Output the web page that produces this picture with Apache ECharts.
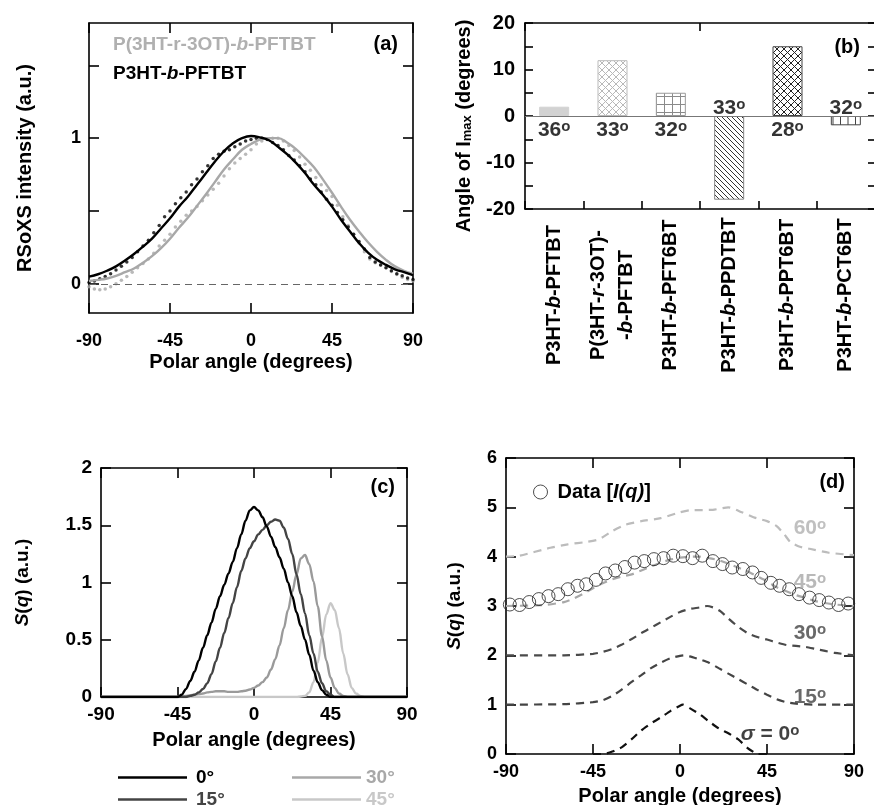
<!DOCTYPE html>
<html><head><meta charset="utf-8">
<script src="https://cdn.jsdelivr.net/npm/echarts@6/dist/echarts.min.js"></script>
<style>html,body{margin:0;padding:0;background:#fff}#c{width:874px;height:805px}</style>
</head><body><div id="c"></div>
<script>
// ---------- Panel (a) data ----------
const aFitAngles = [-90,-85,-80,-75,-70,-65,-60,-55,-50,-45,-40,-35,-30,-25,-20,-15,-10,-5,0,5,10,15,20,25,30,35,40,45,50,55,60,65,70,75,80,85,90];
const aBlackFit = [0.05,0.066,0.09,0.12,0.16,0.205,0.255,0.31,0.38,0.45,0.53,0.60,0.68,0.76,0.84,0.91,0.965,1.0,1.015,1.005,0.985,0.94,0.89,0.83,0.76,0.68,0.61,0.53,0.44,0.36,0.28,0.215,0.165,0.13,0.10,0.08,0.06];
const aGrayFit = [0.02,0.027,0.037,0.055,0.08,0.105,0.145,0.19,0.245,0.31,0.385,0.455,0.535,0.615,0.70,0.785,0.855,0.92,0.96,0.99,1.0,1.0,0.97,0.925,0.865,0.80,0.715,0.625,0.53,0.44,0.36,0.285,0.22,0.165,0.12,0.09,0.07];
const aDotAngles = [-90,-87,-84,-81,-78,-75,-72,-69,-66,-63,-60,-57,-54,-51,-48,-45,-42,-39,-36,-33,-30,-27,-24,-21,-18,-15,-12,-9,-6,-3,0,3,6,9,12,15,18,21,24,27,30,33,36,39,42,45,48,51,54,57,60,63,66,69,72,75,78,81,84,87,90];
const aBlackDots = [0.01,0.02,0.035,0.05,0.07,0.095,0.12,0.15,0.18,0.22,0.26,0.30,0.35,0.40,0.46,0.50,0.55,0.59,0.63,0.68,0.72,0.77,0.81,0.86,0.89,0.91,0.92,0.94,0.96,0.98,0.99,1.0,1.0,0.99,0.97,0.95,0.92,0.88,0.85,0.81,0.77,0.72,0.68,0.63,0.58,0.54,0.49,0.44,0.39,0.34,0.29,0.24,0.18,0.15,0.13,0.11,0.09,0.07,0.055,0.04,0.03];
const aGrayDots = [-0.02,-0.035,-0.04,-0.035,-0.02,0.0,0.025,0.05,0.08,0.11,0.14,0.17,0.21,0.26,0.30,0.34,0.39,0.43,0.47,0.50,0.53,0.57,0.61,0.65,0.69,0.74,0.79,0.83,0.86,0.89,0.92,0.96,0.98,0.995,1.0,1.0,0.98,0.95,0.915,0.87,0.82,0.78,0.73,0.68,0.64,0.60,0.54,0.46,0.40,0.34,0.28,0.22,0.17,0.145,0.13,0.11,0.085,0.065,0.045,0.03,0.02];
const aLegendGray = 'P(3HT-r-3OT)-{i|b}-PFTBT';
const aLegendBlack = 'P3HT-{i|b}-PFTBT';

// ---------- Panel (b) data ----------
const bCategories = ['P3HT-b-PFTBT','P(3HT-r-3OT)-\n-b-PFTBT','P3HT-b-PFT6BT','P3HT-b-PPDTBT','P3HT-b-PPT6BT','P3HT-b-PCT6BT'];
const bValues = [2,12,5,-18,15,-2];
const bAngleLabels = ['36','33','32','33','28','32'];

// ---------- Panel (c) data ----------
const cAngles = [-90,-50,-47.5,-45,-42.5,-40,-37.5,-35,-32.5,-30,-27.5,-25,-22.5,-20,-17.5,-15,-12.5,-10,-7.5,-5,-2.5,0,2.5,5,7.5,10,12.5,15,17.5,20,22.5,25,27.5,30,32.5,35,37.5,40,42.5,45,47.5,50,52.5,55,57.5,60,62.5,65,67.5,70,90];
const c0 = [0,0,0,0,0.02,0.07,0.14,0.22,0.32,0.43,0.54,0.65,0.77,0.88,0.98,1.08,1.18,1.30,1.42,1.54,1.63,1.66,1.63,1.57,1.49,1.40,1.31,1.22,1.12,1.00,0.88,0.74,0.62,0.50,0.37,0.23,0.13,0.06,0.02,0,0,0,0,0,0,0,0,0,0,0,0];
const c15 = [0,0,0,0,0,0,0.01,0.02,0.04,0.07,0.12,0.20,0.31,0.43,0.56,0.69,0.82,0.96,1.10,1.21,1.30,1.36,1.42,1.46,1.50,1.53,1.55,1.54,1.48,1.38,1.25,1.07,0.90,0.73,0.54,0.38,0.22,0.12,0.05,0.02,0,0,0,0,0,0,0,0,0,0,0];
const c30 = [0,0,0,0,0.005,0.01,0.015,0.02,0.025,0.03,0.04,0.045,0.05,0.05,0.05,0.045,0.045,0.045,0.05,0.055,0.065,0.08,0.10,0.13,0.17,0.24,0.33,0.45,0.60,0.76,0.92,1.07,1.21,1.24,1.16,1.01,0.79,0.53,0.32,0.17,0.08,0.03,0.01,0,0,0,0,0,0,0,0];
const c45 = [0,0,0,0,0,0,0,0,0,0,0,0,0,0,0,0,0,0,0,0,0,0,0,0,0,0,0,0,0,0,0,0,0.005,0.01,0.04,0.13,0.30,0.52,0.72,0.82,0.76,0.60,0.38,0.20,0.08,0.03,0.01,0,0,0,0];
const cNames = ['0°','15°','30°','45°'];

// ---------- Panel (d) data ----------
const dDataAngles = [-88,-83,-78,-73,-68,-63,-58,-53,-48.5,-43.5,-38.5,-33.5,-28.5,-23.5,-18.5,-13.5,-8.5,-3.5,1.5,6.5,11.5,17,22,27,32.5,37.5,42,47,51.5,56.5,61.5,67,72,77,82,87];
const dData = [3.03,3.02,3.08,3.14,3.2,3.24,3.34,3.41,3.44,3.53,3.66,3.72,3.79,3.88,3.91,3.95,3.97,4.02,4.01,3.97,4.02,3.91,3.85,3.78,3.75,3.68,3.57,3.47,3.41,3.34,3.24,3.17,3.12,3.07,3.02,3.05];
const d0Angles = [-45,-39.5,-35,-30,-25,-20,-15,-10,-5,0,1.5,5,10,15,20,25,30,35,38,40,45];
const d0 = [0,0,0.05,0.14,0.3,0.48,0.62,0.74,0.87,0.98,1.0,0.93,0.81,0.66,0.52,0.42,0.3,0.12,0.04,0,0];
const d15Angles = [-90,-60,-45,-40,-35,-30,-25,-20,-15,-10,-5,0,2,5,10,15,20,25,30,35,40,45,50,55,60,70,90];
const d15 = [1.0,1.01,1.05,1.09,1.18,1.31,1.46,1.6,1.74,1.85,1.94,1.99,2.0,1.98,1.92,1.85,1.74,1.63,1.52,1.41,1.30,1.2,1.11,1.05,1.02,1.0,1.0];
const d30Angles = [-90,-60,-45,-40,-35,-30,-25,-20,-15,-10,-5,0,5,10,14,18,21,25,30,35,40,45,50,55,60,65,70,75,80,90];
const d30 = [2.0,2.0,2.03,2.07,2.13,2.22,2.33,2.45,2.56,2.67,2.78,2.88,2.94,2.97,3.0,2.96,2.89,2.75,2.58,2.45,2.37,2.32,2.26,2.21,2.19,2.17,2.13,2.09,2.05,2.0];
const d45Angles = [-90,-70,-60,-55,-50,-45,-40,-35,-30,-25,-20,-15,-10,-5,0,5,10,15,20,25,30,35,40,45,50,55,60,65,70,75,80,90];
const d45 = [3.0,3.02,3.08,3.15,3.25,3.36,3.46,3.54,3.60,3.64,3.72,3.8,3.88,3.94,3.98,4.0,4.0,3.97,3.93,3.86,3.78,3.70,3.6,3.5,3.38,3.3,3.22,3.16,3.1,3.06,3.03,3.0];
const d60Angles = [-90,-83,-67,-58,-48,-42,-35,-28,-20,-10,0,5,17,25,32,38,45,50,54,57,62,67,77,90];
const d60 = [4.0,4.02,4.18,4.25,4.3,4.35,4.52,4.65,4.72,4.78,4.9,4.94,4.95,5.0,4.9,4.8,4.72,4.62,4.45,4.3,4.2,4.16,4.08,4.03];

// ---------- helpers ----------
const FONT = 'Liberation Sans';
function pairs(xs, ys){ return xs.map((x,i)=>[x, ys[i]]); }
function makePattern(kind, color, size, lw){
  const c = document.createElement('canvas'); c.width = size; c.height = size;
  const g = c.getContext('2d');
  g.fillStyle = '#fff'; g.fillRect(0,0,size,size);
  g.strokeStyle = color; g.lineWidth = lw; g.beginPath();
  if (kind === 'back' || kind === 'cross') { for (const k of [-size,0,size]) { g.moveTo(k,0); g.lineTo(k+size,size); } }
  if (kind === 'fwd' || kind === 'cross') { for (const k of [-size,0,size]) { g.moveTo(k,size); g.lineTo(k+size,0); } }
  if (kind === 'grid') { g.moveTo(0,0.5); g.lineTo(size,0.5); g.moveTo(0.5,0); g.lineTo(0.5,size); }
  if (kind === 'vert') { g.moveTo(0.5,0); g.lineTo(0.5,size); g.moveTo(8,0); g.lineTo(8,size); }
  g.stroke();
  return {image: c, repeat: 'repeat'};
}
const barStyles = [
  {color:'#d2d2d2', borderColor:'#d2d2d2', borderWidth:1},
  {color: makePattern('cross','#b8b8b8',7,1), borderColor:'#bbbbbb', borderWidth:1},
  {color: makePattern('grid','#8a8a8a',8,1), borderColor:'#999999', borderWidth:1},
  {color: makePattern('back','#333333',5,1), borderColor:'#888888', borderWidth:1},
  {color: makePattern('cross','#222222',7,1), borderColor:'#444444', borderWidth:1},
  {color: makePattern('vert','#444444',15,1), borderColor:'#444444', borderWidth:1}
];

function axLine(){ return {show:true, onZero:false, lineStyle:{color:'#000', width:1.6}}; }
function axTick(len){ return {show:true, inside:true, length:len, lineStyle:{color:'#000', width:1.6}}; }
function valX(grid, pos, fs, margin, name, gap, extra){
  return Object.assign({
    type:'value', gridIndex:grid, position:pos, min:-90, max:90, interval:45,
    axisLine:axLine(), axisTick:axTick(10), splitLine:{show:false},
    axisLabel:{show: pos==='bottom', margin:margin, fontSize:fs, fontWeight:'bold', color:'#000', fontFamily:FONT},
    name: pos==='bottom'? name : '', nameLocation:'middle', nameGap:gap, nameMoveOverlap:false,
    nameTextStyle:{fontSize:20, fontWeight:'bold', color:'#000', fontFamily:FONT}
  }, extra||{});
}
function valY(grid, pos, min, max, interval, fs, margin, name, gap, extra){
  return Object.assign({
    type:'value', gridIndex:grid, position:pos, min:min, max:max, interval:interval,
    axisLine:axLine(), axisTick:axTick(10), splitLine:{show:false},
    axisLabel:{show: pos==='left', margin:margin, fontSize:fs, fontWeight:'bold', color:'#000', fontFamily:FONT},
    name: pos==='left'? name : '', nameLocation:'middle', nameGap:gap, nameMoveOverlap:false,
    nameTextStyle:{fontSize:20, fontWeight:'bold', color:'#000', fontFamily:FONT}
  }, extra||{});
}
const boldRich = (size, color) => ({
  n:{fontSize:size, fontWeight:'bold', fontFamily:FONT, color:color, lineHeight:size},
  s:{fontSize:Math.round(size*0.7), fontWeight:'bold', fontFamily:FONT, color:color, verticalAlign:'top', lineHeight:Math.round(size*0.7)},
  i:{fontSize:size, fontWeight:'bold', fontStyle:'italic', fontFamily:FONT, color:color, lineHeight:size}
});

const grids = [
  {left:89, top:23, width:324, height:290, outerBoundsMode:'none'},
  {left:525, top:23, width:350, height:186, outerBoundsMode:'none'},
  {left:101, top:468, width:306, height:229, outerBoundsMode:'none'},
  {left:506, top:458, width:348, height:296, outerBoundsMode:'none'}
];

const catLabelFmt = v => v.split('\n').map(l => l.replace(/-b-/g,'-{i|b}-').replace('-r-','-{i|r}-')).join('\n');

const xAxes = [
  valX(0,'bottom',18,19,'Polar angle (degrees)',39),
  valX(0,'top',18,0,'',0),
  {type:'category', gridIndex:1, position:'bottom', data:bCategories,
   axisLine:axLine(), axisTick:{show:true, inside:true, length:8, alignWithLabel:false, lineStyle:{color:'#000', width:1.6}},
   axisLabel:{interval:0, rotate:90, align:'center', verticalAlign:'middle', margin:86, fontSize:20, fontWeight:'bold', color:'#000', fontFamily:FONT, lineHeight:28,
     formatter:catLabelFmt, rich:{i:{fontSize:20, fontWeight:'bold', fontStyle:'italic', fontFamily:FONT, color:'#000', lineHeight:28}}}},
  {type:'category', gridIndex:1, position:'top', data:bCategories,
   axisLine:axLine(), axisTick:{show:true, inside:true, length:8, alignWithLabel:false, lineStyle:{color:'#000', width:1.6}},
   axisLabel:{show:false}},
  valX(2,'bottom',19,8.5,'Polar angle (degrees)',33),
  valX(2,'top',19,0,'',0),
  valX(3,'bottom',18,9,'Polar angle (degrees)',32),
  valX(3,'top',18,0,'',0)
];

const yAxes = [
  valY(0,'left',-0.2,1.79,null,18,8,'RSoXS intensity (a.u.)',54,
    {axisTick:Object.assign(axTick(10),{customValues:[0,0.5,1,1.5]}),
     axisLabel:{show:true, customValues:[0,1], margin:8, fontSize:18, fontWeight:'bold', color:'#000', fontFamily:FONT}}),
  valY(0,'right',-0.2,1.79,null,18,0,'',0,
    {axisTick:Object.assign(axTick(10),{customValues:[0,0.5,1,1.5]}), axisLabel:{show:false}}),
  valY(1,'left',-20,20,5,20,10,'Angle of I{sub|max} (degrees)',51,
    {axisTick:axTick(8),
     axisLabel:{margin:10, fontSize:20, fontWeight:'bold', color:'#000', fontFamily:FONT, formatter: v => (v % 10 === 0 ? String(v) : '')},
     nameTextStyle:{fontSize:20, fontWeight:'bold', color:'#000', fontFamily:FONT, padding:[0,20,0,0],
       rich:{sub:{fontSize:13, fontWeight:'bold', color:'#000', fontFamily:FONT, verticalAlign:'bottom', lineHeight:13}}}}),
  valY(1,'right',-20,20,5,20,0,'',0,{axisTick:axTick(7)}),
  valY(2,'left',0,2,0.5,19,9,'{i|S}({i|q}) (a.u.)',69,
    {nameTextStyle:{fontSize:19, fontWeight:'bold', color:'#000', fontFamily:FONT,
      rich:{i:{fontSize:19, fontWeight:'bold', fontStyle:'italic', color:'#000', fontFamily:FONT}}}}),
  valY(2,'right',0,2,0.5,19,0,'',0),
  valY(3,'left',0,6,1,18,9,'{i|S}({i|q}) (a.u.)',42,
    {nameTextStyle:{fontSize:19, fontWeight:'bold', color:'#000', fontFamily:FONT,
      rich:{i:{fontSize:19, fontWeight:'bold', fontStyle:'italic', color:'#000', fontFamily:FONT}}}}),
  valY(3,'right',0,6,1,18,0,'',0)
];

const series = [];
// (a)
series.push({type:'scatter', name:'aGrayDots', xAxisIndex:0, yAxisIndex:0, data:pairs(aDotAngles,aGrayDots), symbolSize:3.5, itemStyle:{color:'#a8a8a8'}, silent:true,
  markLine:{silent:true, symbol:['none','none'], label:{show:false}, lineStyle:{type:[7,5], color:'#666', width:1}, data:[{yAxis:0}]}});
series.push({type:'line', name:'aGrayFit', xAxisIndex:0, yAxisIndex:0, data:pairs(aFitAngles,aGrayFit), smooth:0.4, symbol:'none', lineStyle:{color:'#a8a8a8', width:2.4}});
series.push({type:'scatter', name:'aBlackDots', xAxisIndex:0, yAxisIndex:0, data:pairs(aDotAngles,aBlackDots), symbolSize:3.5, itemStyle:{color:'#000'}, silent:true});
series.push({type:'line', name:'aBlackFit', xAxisIndex:0, yAxisIndex:0, data:pairs(aFitAngles,aBlackFit), smooth:0.4, symbol:'none', lineStyle:{color:'#000', width:2.4}});
// (b)
series.push({type:'bar', name:'bBars', xAxisIndex:2, yAxisIndex:2, barWidth:30,
  data: bValues.map((v,i)=>({value:v, itemStyle:barStyles[i]})),
  markLine:{silent:true, symbol:['none','none'], label:{show:false}, lineStyle:{type:'solid', color:'#777', width:1.2}, data:[{yAxis:0}]}});
series.push({type:'scatter', name:'bLabels', xAxisIndex:2, yAxisIndex:2, symbolSize:1, itemStyle:{color:'transparent'}, silent:true, z:5,
  data: bValues.map((v,i)=>({value:[i,0], label:{offset:[0, v>=0 ? 14 : -8]}})),
  label:{show:true, position:'inside', formatter: p => '{n|'+bAngleLabels[p.dataIndex]+'}{s|o}', rich:boldRich(21,'#000')}});
// (c)
const cColors = ['#000000','#444444','#9a9a9a','#c8c8c8'];
[c0,c15,c30,c45].forEach((vals,k)=>{
  series.push({type:'line', name:cNames[k], xAxisIndex:4, yAxisIndex:4, data:pairs(cAngles,vals), smooth:0.35, smoothMonotone:'x', symbol:'none',
    lineStyle:{color:cColors[k], width:2.4}, itemStyle:{color:cColors[k]}, z: 10-k});
});
// (d)
const dDefs = [[d60Angles,d60,'#bcbcbc'],[d45Angles,d45,'#a8a8a8'],[d30Angles,d30,'#4a4a4a'],[d15Angles,d15,'#444444'],[d0Angles,d0,'#111111']];
dDefs.forEach(([xs,ys,col],k)=>{
  series.push({type:'line', name:'d'+k, xAxisIndex:6, yAxisIndex:6, data:pairs(xs,ys), smooth:0.2, symbol:'none',
    lineStyle:{color:col, width:2.2, type:[8,6]}});
});
series.push({type:'scatter', name:'Data', xAxisIndex:6, yAxisIndex:6, data:pairs(dDataAngles,dData), symbol:'circle', symbolSize:13,
  itemStyle:{color:'rgba(255,255,255,0)', borderColor:'#222', borderWidth:1}, z:6});
series.push({type:'scatter', name:'dLabels', xAxisIndex:6, yAxisIndex:6, symbolSize:1, itemStyle:{color:'transparent'}, silent:true, z:7,
  label:{show:true, position:'inside', formatter: p => p.data.t},
  data:[
    {value:[67.2,4.58], t:'{n|60}{s|o}', label:{rich:boldRich(21,'#b0b0b0')}},
    {value:[67.2,3.49], t:'{n|45}{s|o}', label:{rich:boldRich(21,'#a8a8a8')}},
    {value:[67.2,2.45], t:'{n|30}{s|o}', label:{rich:boldRich(21,'#444')}},
    {value:[67.2,1.16], t:'{n|15}{s|o}', label:{rich:boldRich(21,'#444')}},
    {value:[46.6,0.40], t:'{i|σ}{n| = 0}{s|o}', label:{rich:boldRich(21,'#111')}}
  ]});

const legendText = {fontSize:19, fontWeight:'bold', fontFamily:FONT, lineHeight:18};
function lineLegend(name, left, top, color, pad){
  return {orient:'horizontal', left:left, top:top, itemWidth:69, itemHeight:2.5, selectedMode:false,
    textStyle:Object.assign({padding:[0,0,0,pad], color:color}, legendText),
    data:[{name:name, icon:'rect', itemStyle:{color:color}}]};
}
const option = {
  animation:false,
  backgroundColor:'#fff',
  textStyle:{fontFamily:FONT},
  grid:grids, xAxis:xAxes, yAxis:yAxes, series:series,
  legend:[
    lineLegend('0°', 113, 763, '#000', 4),
    lineLegend('15°', 113, 785, '#444', 4),
    lineLegend('30°', 287, 763, '#a8a8a8', 0),
    lineLegend('45°', 287, 785, '#c8c8c8', 0),
    {orient:'vertical', left:528, top:477, itemWidth:14, itemHeight:14, selectedMode:false,
     data:[{name:'Data', icon:'circle', itemStyle:{color:'rgba(255,255,255,0)', borderColor:'#222', borderWidth:1}}],
     formatter: n => 'Data [{i|I(q)}]',
     textStyle:{fontSize:20, fontWeight:'bold', fontFamily:FONT, color:'#000', padding:[0,0,0,5],
       rich:{i:{fontSize:20, fontWeight:'bold', fontStyle:'italic', fontFamily:FONT, color:'#000'}}}}
  ],
  graphic:[
    {type:'text', x:113, y:45, silent:true, style:{text:aLegendGray, fill:'#b0b0b0', fontSize:19, fontWeight:'bold', fontFamily:FONT, verticalAlign:'middle',
      rich:{i:{fill:'#b0b0b0', fontSize:19, fontWeight:'bold', fontStyle:'italic', fontFamily:FONT}}}},
    {type:'text', x:113, y:74, silent:true, style:{text:aLegendBlack, fill:'#000', fontSize:19, fontWeight:'bold', fontFamily:FONT, verticalAlign:'middle',
      rich:{i:{fill:'#000', fontSize:19, fontWeight:'bold', fontStyle:'italic', fontFamily:FONT}}}},
    {type:'text', x:398, y:44, silent:true, style:{text:'(a)', fill:'#000', fontSize:20, fontWeight:'bold', fontFamily:FONT, align:'right', verticalAlign:'middle'}},
    {type:'text', x:860, y:47, silent:true, style:{text:'(b)', fill:'#000', fontSize:20, fontWeight:'bold', fontFamily:FONT, align:'right', verticalAlign:'middle'}},
    {type:'text', x:395, y:487, silent:true, style:{text:'(c)', fill:'#000', fontSize:20, fontWeight:'bold', fontFamily:FONT, align:'right', verticalAlign:'middle'}},
    {type:'text', x:845, y:482, silent:true, style:{text:'(d)', fill:'#000', fontSize:20, fontWeight:'bold', fontFamily:FONT, align:'right', verticalAlign:'middle'}}
  ]
};
const chart = echarts.init(document.getElementById('c'), null, {renderer:'canvas'});
chart.setOption(option);
</script>
</body></html>
